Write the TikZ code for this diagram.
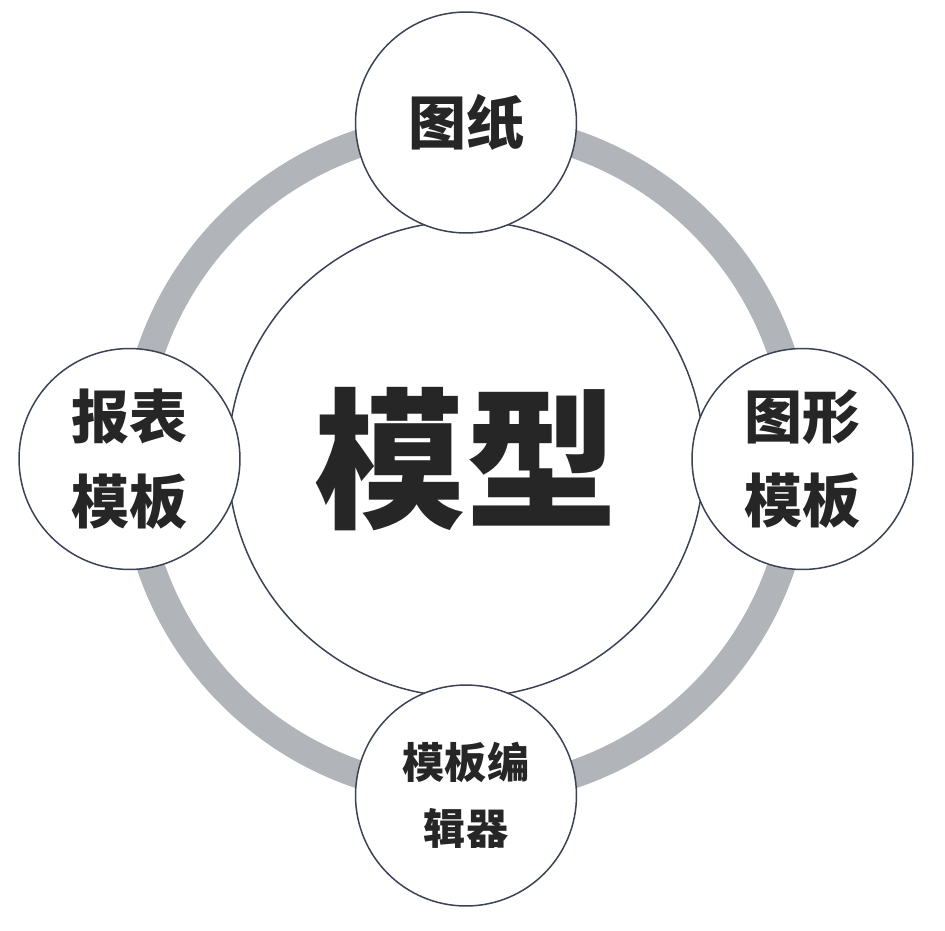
\documentclass[tikz,border=0pt]{standalone}
\usepackage{fontspec}
\usepackage{xcolor}
\usepackage{tikz}
\usetikzlibrary{positioning}
\newfontfamily\cjk{Noto Sans CJK SC}
\definecolor{ringgray}{HTML}{B1B4B9}
\definecolor{edgeblue}{HTML}{3A4253}
\definecolor{inkblack}{HTML}{262626}

\begin{document}
\begin{tikzpicture}[x=0.02cm,y=0.02cm,
    bubble/.style={circle,draw=edgeblue,line width=0.85pt,fill=white,
      minimum size=4.42cm,inner sep=0pt,align=center,text=inkblack,
      font=\cjk\bfseries\fontsize{33}{48}\selectfont}]
  \useasboundingbox (-466,-471) rectangle (479,459);
  % gray ring behind everything
  \draw[ringgray,line width=0.56cm] (0,0) circle (333);
  \node[bubble,minimum size=9.52cm,
    font=\cjk\bfseries\fontsize{86}{100}\selectfont] (model) at (0,0) {模型};
  \node[bubble] (drawing) at (90:336.5) {图纸};
  \node[bubble] (graphic) at (0:336.5) {图形\\模板};
  \node[bubble] (report) at (180:336.5) {报表\\模板};
  \node[bubble,font=\cjk\bfseries\fontsize{24}{37.5}\selectfont]
    (editor) at (270:336.5) {模板编\\辑器};
\end{tikzpicture}
\end{document}
